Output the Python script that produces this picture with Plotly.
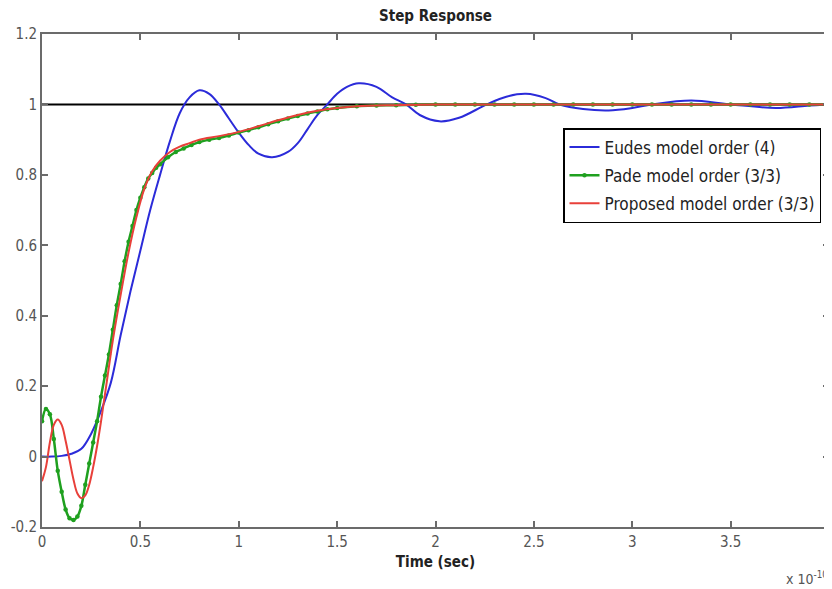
import plotly.graph_objects as go

# ---- data (time in units of 1e-10 s) ----
t_eudes = [0, 0.05, 0.10, 0.15, 0.20, 0.25, 0.30, 0.35, 0.40, 0.45, 0.50, 0.55, 0.60, 0.65, 0.70,
           0.75, 0.80, 0.85, 0.90, 0.95, 1.00, 1.05, 1.10, 1.17, 1.25, 1.30, 1.35, 1.40, 1.45,
           1.50, 1.55, 1.61, 1.70, 1.78, 1.85, 1.92, 2.02, 2.12, 2.26, 2.36, 2.46, 2.56, 2.63,
           2.75, 2.88, 3.00, 3.10, 3.30, 3.50, 3.73, 3.90, 4.00]
y_eudes = [0, 0.0, 0.002, 0.008, 0.022, 0.065, 0.13, 0.21, 0.345, 0.47, 0.585, 0.70, 0.80, 0.895, 0.975,
           1.02, 1.04, 1.03, 1.0, 0.96, 0.92, 0.885, 0.86, 0.85, 0.865, 0.89, 0.93, 0.97, 1.0,
           1.03, 1.05, 1.06, 1.05, 1.02, 1.0, 0.97, 0.952, 0.962, 1.0, 1.022, 1.03, 1.018, 1.0,
           0.987, 0.983, 0.99, 1.0, 1.011, 1.0, 0.99, 0.997, 1.0]

t_pade = [0, 0.02, 0.04, 0.06, 0.08, 0.10, 0.12, 0.14, 0.16, 0.18, 0.20, 0.22, 0.24, 0.26, 0.28,
          0.30, 0.32, 0.34, 0.36, 0.38, 0.40, 0.42, 0.44, 0.46, 0.48, 0.50, 0.52, 0.54, 0.56,
          0.58, 0.60, 0.64, 0.68, 0.72, 0.76, 0.80, 0.85, 0.90, 0.95, 1.00, 1.05, 1.10, 1.15,
          1.20, 1.25, 1.30, 1.35, 1.40, 1.45, 1.50, 1.60, 1.70, 1.80, 1.90, 2.00, 2.10, 2.20,
          2.30, 2.40, 2.50, 2.60, 2.70, 2.80, 2.90, 3.00, 3.10, 3.20, 3.30, 3.40, 3.50, 3.60,
          3.70, 3.80, 3.90, 4.00]
y_pade = [0.10, 0.135, 0.12, 0.05, -0.04, -0.10, -0.15, -0.175, -0.18, -0.17, -0.14, -0.08, -0.02, 0.04, 0.10,
          0.17, 0.23, 0.29, 0.36, 0.43, 0.49, 0.555, 0.61, 0.655, 0.70, 0.735, 0.765, 0.79, 0.805,
          0.82, 0.83, 0.85, 0.865, 0.875, 0.885, 0.893, 0.90, 0.905, 0.912, 0.92, 0.927, 0.935, 0.944,
          0.952, 0.96, 0.967, 0.974, 0.98, 0.986, 0.99, 0.995, 0.997, 0.998, 0.999, 1.0, 1.0, 1.0,
          1.0, 1.0, 1.0, 1.0, 1.0, 1.0, 1.0, 1.0, 1.0, 1.0, 1.0, 1.0, 1.0, 1.0,
          1.0, 1.0, 1.0, 1.0]

t_prop = [0, 0.02, 0.04, 0.06, 0.08, 0.10, 0.12, 0.14, 0.16, 0.18, 0.20, 0.22, 0.24, 0.26, 0.28,
          0.30, 0.33, 0.36, 0.40, 0.44, 0.48, 0.52, 0.56, 0.60, 0.65, 0.70, 0.75, 0.80, 0.90,
          1.00, 1.10, 1.20, 1.30, 1.40, 1.50, 1.60, 1.80, 2.00, 2.50, 3.00, 3.50, 4.00]
y_prop = [-0.07, -0.03, 0.04, 0.09, 0.105, 0.09, 0.045, -0.01, -0.065, -0.105, -0.118, -0.11, -0.08, -0.03, 0.03,
          0.10, 0.215, 0.33, 0.46, 0.58, 0.68, 0.76, 0.81, 0.84, 0.865, 0.88, 0.89, 0.90, 0.91,
          0.922, 0.938, 0.955, 0.97, 0.982, 0.99, 0.995, 0.998, 1.0, 1.0, 1.0, 1.0, 1.0]

steady_t = [0, 4]
steady_y = [1, 1]

x_ticks = [0, 0.5, 1, 1.5, 2, 2.5, 3, 3.5, 4]
x_tick_labels = ["0", "0.5", "1", "1.5", "2", "2.5", "3", "3.5", "4"]
y_ticks = [-0.2, 0, 0.2, 0.4, 0.6, 0.8, 1.0, 1.2]
y_tick_labels = ["-0.2", "0", "0.2", "0.4", "0.6", "0.8", "1", "1.2"]

names = ["Eudes model order (4)", "Pade model order (3/3)", "Proposed model order (3/3)"]

FONT = "DejaVu Sans Condensed, Liberation Sans Narrow, Liberation Sans, Arial, sans-serif"
AX = "#6b6b6b"

# page has an 8px body margin, so figure coordinates = page coordinates - 8
OFF = 8
W, H = 832, 589
PL, PR, PT, PB = 42 - OFF, 829 - OFF, 34 - OFF, 527 - OFF
PW, PH = PR - PL, PB - PT

fig = go.Figure()
fig.add_trace(go.Scatter(x=steady_t, y=steady_y, mode="lines",
                         line=dict(color="black", width=2), showlegend=False, hoverinfo="skip"))
fig.add_trace(go.Scatter(x=t_eudes, y=y_eudes, mode="lines", name=names[0], legendgroup="a",
                         line=dict(color="#2b2bd9", width=2, shape="spline", smoothing=1.0)))
fig.add_trace(go.Scatter(x=t_pade, y=y_pade, mode="lines+markers", name=names[1], legendgroup="b",
                         line=dict(color="#1fa01f", width=2.5, shape="spline", smoothing=1.0),
                         marker=dict(color="#1fa01f", size=4.5, symbol="circle")))
fig.add_trace(go.Scatter(x=t_prop, y=y_prop, mode="lines", name=names[2], legendgroup="c",
                         line=dict(color="#e8403a", width=2, shape="spline", smoothing=1.0)))

axis_common = dict(showline=True, linecolor=AX, linewidth=2, mirror="allticks",
                   ticks="inside", ticklen=6, tickcolor=AX, tickwidth=1.5,
                   showgrid=False, zeroline=False, automargin=False,
                   tickfont=dict(family=FONT, size=15, color="#555555"))

fig.update_layout(
    width=W, height=H,
    margin=dict(l=PL, r=W - PR, t=PT, b=H - PB),
    plot_bgcolor="white", paper_bgcolor="white",
    title=dict(text="<b>Step Response</b>", x=((42 + 829) / 2 - OFF) / W, xanchor="center",
               y=1 - 2 / H, yanchor="top", automargin=False,
               font=dict(family=FONT, size=15, color="#222222")),
    xaxis=dict(range=[0, 4], tickvals=x_ticks, ticktext=x_tick_labels,
               title=dict(text="<b>Time (sec)</b>", standoff=6,
                          font=dict(family=FONT, size=15, color="#222222")),
               **axis_common),
    yaxis=dict(range=[-0.2, 1.2], tickvals=y_ticks, ticktext=y_tick_labels, **axis_common),
    legend=dict(x=(563 - 42) / PW, y=(527 - 128) / PH, xanchor="left", yanchor="top",
                bgcolor="white", bordercolor="black", borderwidth=1.5,
                font=dict(family=FONT, size=17, color="#222222"),
                tracegroupgap=3, itemwidth=30),
    showlegend=True,
)

fig.add_annotation(text="x 10<sup>-10</sup>", xref="paper", yref="paper",
                   x=(784 - 42) / PW, y=-(578 - 527) / PH, xanchor="left", yanchor="middle",
                   showarrow=False, font=dict(family=FONT, size=14, color="#555555"))

fig.write_html("out.html")
